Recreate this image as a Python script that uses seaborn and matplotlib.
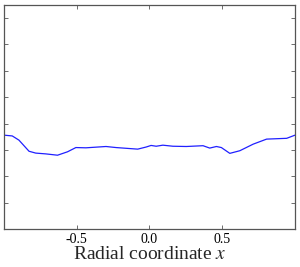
import numpy as np
import pandas as pd
import matplotlib
matplotlib.use("Agg")
import matplotlib.pyplot as plt
import seaborn as sns

# values
radial_x = [-1.0, -0.943, -0.897, -0.828, -0.782, -0.713, -0.632, -0.563,
            -0.506, -0.437, -0.299, -0.230, -0.081, -0.023, 0.011, 0.046,
            0.092, 0.161, 0.253, 0.368, 0.414, 0.460, 0.494, 0.552, 0.621,
            0.713, 0.805, 0.943, 1.0]
profile = [3.56, 3.53, 3.37, 2.95, 2.88, 2.85, 2.80, 2.93,
           3.09, 3.08, 3.13, 3.09, 3.03, 3.11, 3.17, 3.14,
           3.18, 3.14, 3.13, 3.16, 3.07, 3.13, 3.09, 2.87, 2.97,
           3.22, 3.41, 3.44, 3.56]
x_ticks = [-0.5, 0.0, 0.5]
x_tick_labels = ["-0.5", "0.0", "0.5"]
y_ticks = [1, 2, 3, 4, 5, 6, 7, 8]

df = pd.DataFrame({"x": radial_x, "y": profile})

sns.set_style("ticks")
plt.rcParams["font.family"] = ["Liberation Serif", "DejaVu Serif"]
plt.rcParams["mathtext.fontset"] = "stix"

fig = plt.figure(figsize=(3.0, 2.67), dpi=100)
ax = fig.add_axes([0.0133, 0.142, 0.97, 0.84])

sns.lineplot(data=df, x="x", y="y", color="#2020ff", linewidth=0.9, ax=ax)

ax.set_xlim(-1, 1)
ax.set_ylim(0, 8.5)
ax.set_xticks(x_ticks)
ax.set_xticklabels(x_tick_labels, fontsize=10)
ax.set_yticks(y_ticks)
ax.set_yticklabels([])
ax.tick_params(direction="in", length=3, width=0.6, top=True, right=True,
               colors="#555555", labelcolor="black", pad=3)
for sp in ax.spines.values():
    sp.set_color("#555555")
    sp.set_linewidth(0.9)

ax.set_xlabel("Radial coordinate $x$", fontsize=14, labelpad=0)
ax.set_ylabel("")

fig.savefig("out.png", dpi=100)
